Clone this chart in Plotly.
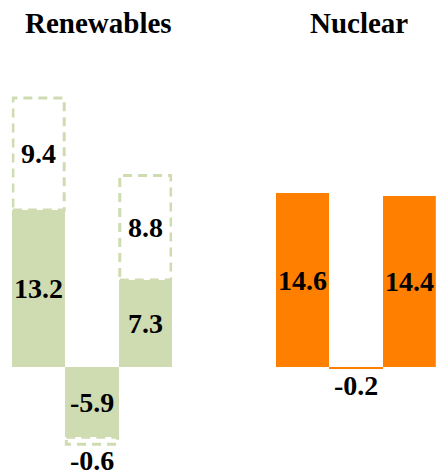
import plotly.graph_objects as go

# Change in generation (TWh) by period
periods = ["A", "B", "C"]
renew_solid = [13.2, -5.9, 7.3]
renew_extra = [9.4, -0.6, 8.8]
nuclear = [14.6, -0.2, 14.4]
panel_titles = ["Renewables", "Nuclear"]

GREEN = "#cfdcb1"
ORANGE = "#ff8000"
FONT = "Liberation Serif, Times New Roman, serif"
LABEL_SIZE = 28

fig = go.Figure()
xs = list(range(len(periods)))

fig.add_trace(go.Bar(x=xs, y=renew_solid, marker=dict(color=GREEN, line=dict(width=0)),
                     xaxis="x", yaxis="y", showlegend=False, hoverinfo="skip"))
fig.add_trace(go.Bar(x=xs, y=nuclear, marker=dict(color=ORANGE, line=dict(width=0)),
                     xaxis="x2", yaxis="y", showlegend=False, hoverinfo="skip"))

# dashed outline for the additional potential stacked on the solid bars
for i, (s, e) in enumerate(zip(renew_solid, renew_extra)):
    fig.add_shape(type="rect", xref="x", yref="y", layer="below",
                  x0=i - 0.48, x1=i + 0.48, y0=s, y1=s + e,
                  line=dict(color=GREEN, width=3, dash="9px,6px"),
                  fillcolor="rgba(0,0,0,0)")

def label(text, xref, x, y, yshift=0):
    fig.add_annotation(text=f"<b>{text}</b>", xref=xref, yref="y", x=x, y=y,
                       xanchor="center", yanchor="middle",
                       yshift=yshift, showarrow=False,
                       font=dict(family=FONT, size=LABEL_SIZE, color="black"))

for i, (s, e) in enumerate(zip(renew_solid, renew_extra)):
    label(s, "x", i, s / 2)
    if abs(e) >= 2:
        label(e, "x", i, s + e / 2)
    else:
        label(e, "x", i, s + e, yshift=-16 if e < 0 else 16)

for i, v in enumerate(nuclear):
    if abs(v) >= 2:
        label(v, "x2", i, v / 2)
    else:
        label(v, "x2", i, v, yshift=-16 if v < 0 else 16)

for title, xc in zip(panel_titles, [0.226, 0.82]):
    fig.add_annotation(text=f"<b>{title}</b>", xref="paper", yref="paper",
                       x=xc, y=0.952, xanchor="center", yanchor="middle",
                       showarrow=False,
                       font=dict(family=FONT, size=29, color="black"))

axis_hidden = dict(visible=False, range=[-0.5, 2.5], fixedrange=True)
fig.update_layout(
    width=438, height=475,
    margin=dict(l=0, r=0, t=0, b=0),
    paper_bgcolor="white", plot_bgcolor="white",
    bargap=0,
    xaxis=dict(domain=[0.027, 0.393], **axis_hidden),
    xaxis2=dict(domain=[0.63, 0.995], **axis_hidden),
    yaxis=dict(visible=False, range=[-9.08, 30.84], fixedrange=True),
)

fig.write_html("out.html")
